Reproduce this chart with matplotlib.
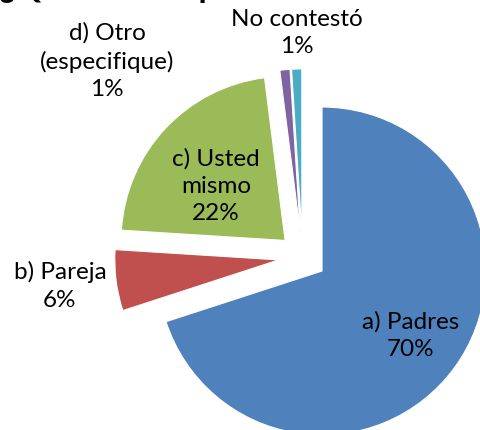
import matplotlib.pyplot as plt

# survey answers, clockwise from 12 o'clock
labels = ["a) Padres", "b) Pareja", "c) Usted\nmismo", "d) Otro\n(especifique)", "No contestó"]
values = [70, 6, 22, 1, 1]
colors = ["#4F81BD", "#C0504D", "#9BBB59", "#8064A2", "#4BACC6"]
title = "¿Quién es responsable de usted?"

W, H = 481, 431
fig = plt.figure(figsize=(W / 100, H / 100), dpi=100)
ax = fig.add_axes([0, 0, 1, 1])

plt.rcParams["font.family"] = ["Lato", "DejaVu Sans"]

# pie in pixel units (y up), every slice pulled out a bit
cx, cy, r = 302.6, H - 257.9, 164
wedges, _ = ax.pie(values, colors=colors, startangle=90, counterclock=False,
                   center=(cx, cy), radius=r, explode=[24] * len(values),
                   wedgeprops=dict(edgecolor="white", linewidth=0.8), frame=True)
ax.set_xlim(0, W)
ax.set_ylim(0, H)
ax.set_aspect("equal")
ax.axis("off")

# label positions (image px, centre of text block)
label_pos = [(411, 336), (60, 286), (216, 186), (107, 61), (297, 33)]
for lab, v, (x, y) in zip(labels, values, label_pos):
    ax.text(x, H - y, f"{lab}\n{v}%", ha="center", va="center",
            fontsize=17.5, linespacing=1.38, color="black")

# title is mostly cut off by the top edge
ax.text(W / 2, H + 2, title, ha="center", va="baseline",
        fontsize=24, fontweight="bold", color="black")

fig.savefig("out.png", dpi=100)
